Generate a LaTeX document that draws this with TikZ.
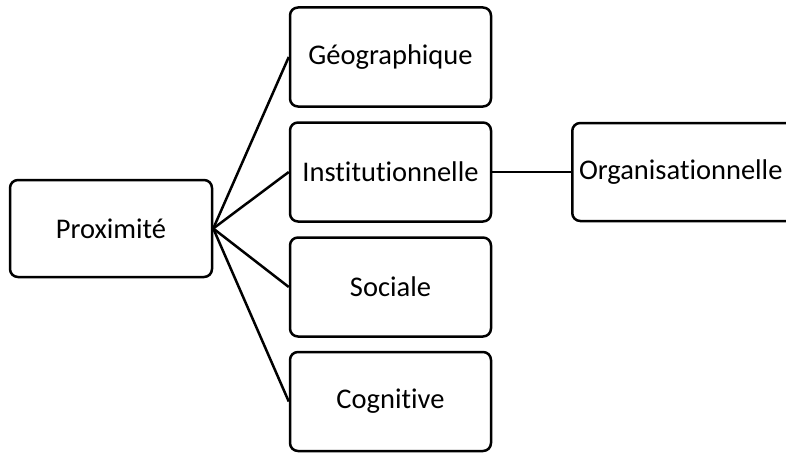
\documentclass[tikz,border=0pt]{standalone}
\usepackage{fontspec}
\setmainfont{Carlito}[RawFeature=-liga]
\usepackage{tikz}

\tikzset{
  boite/.style={draw, line width=2.5pt, rounded corners=8pt, inner sep=2pt,
    minimum width=201pt, minimum height=99pt, align=center,
    font=\fontsize{28.5}{33}\selectfont},
  lien/.style={line width=2.5pt}
}

\begin{document}
\begin{tikzpicture}[x=1pt, y=-1pt]
                \useasboundingbox (0,0) rectangle (786,452);
                \clip (0,0) rectangle (786,452);
                \node[boite, minimum width=202pt, minimum height=97pt] (prox) at (111,228.5) {Proximité};
                \node[boite] (geo) at (390.5,57) {Géographique};
                \node[boite] (inst) at (390.5,172) {Institutionnelle};
                \node[boite] (soc) at (390.5,287) {Sociale};
                \node[boite] (cog) at (390.5,401.5) {Cognitive};
                % la boite sort du cadre a droite
                \node[boite, anchor=west, minimum width=0pt, inner xsep=0pt, minimum height=98pt] (org) at (571,172)
                    {\hspace*{6pt}\makebox[205pt]{Organisationnelle}\hspace*{30pt}};
                \foreach \n in {geo, inst, soc, cog}
                    \draw[lien] (prox.east) -- (\n.west);
                \draw[lien] (inst.east) -- (org.west);
            \end{tikzpicture}
\end{document}
